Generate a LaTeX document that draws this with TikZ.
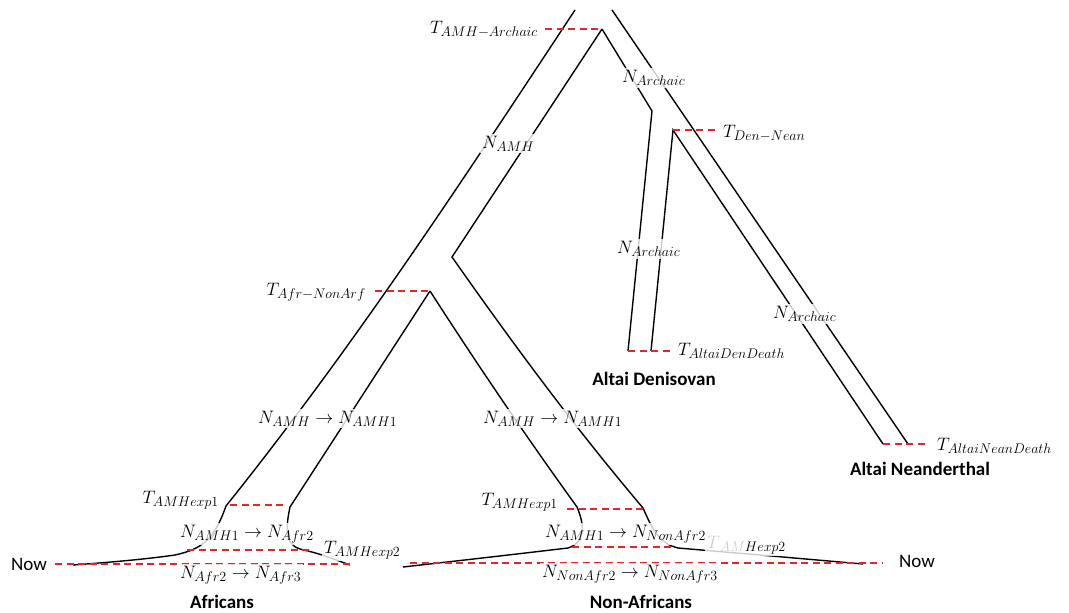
\RequirePackage{fix-cm}
\documentclass[tikz,border=0pt]{standalone}
\usepackage{fontspec}
\newfontfamily\calib{Carlito}
\DeclareMathSizes{18}{18}{14}{10}
\newcommand\lblsize{\fontsize{18}{21}\selectfont}
\newcommand\popfont{\calib\bfseries\fontsize{19}{22}\selectfont}
\newcommand\nowfont{\calib\fontsize{19}{22}\selectfont}
\definecolor{cutred}{RGB}{228,38,38}
\definecolor{faded}{RGB}{205,205,205}
\begin{document}
\begin{tikzpicture}[x=1pt,y=-1pt,
  lin/.style={line width=1.4pt,black},
  cut/.style={line width=1.6pt,cutred,dash pattern=on 7pt off 4.5pt},
  lbl/.style={fill=white,fill opacity=0.8,text opacity=1,inner sep=2pt,font=\lblsize},
  pop/.style={inner sep=1pt,font=\popfont},
  nowlbl/.style={inner sep=1pt,font=\nowfont}]
\useasboundingbox (0,0) rectangle (1069,613);

% branch points and ends
\coordinate (amhTop) at (575,10);
\coordinate (afrEnd) at (226,506);
\coordinate (afrNow) at (73,565);
\coordinate (amhSplit) at (602,29);
\coordinate (amhJoin) at (452,257);
\coordinate (nafOutEnd) at (643,508);
\coordinate (nafOutNow) at (863,564);
\coordinate (afrSplit) at (430,291);
\coordinate (afrInEnd) at (290,507);
\coordinate (afrInNow) at (350,565);
\coordinate (nafInEnd) at (577,507);
\coordinate (nafInNow) at (403,567);
\coordinate (arcTop) at (612,10);
\coordinate (neanEnd) at (908,444);
\coordinate (arcBend) at (652,111);
\coordinate (denEndL) at (628,351);
\coordinate (denSplit) at (673,130);
\coordinate (denEndR) at (651,351);
\coordinate (neanEndL) at (883,444);

% time markers
\coordinate (tAA) at (545,29);
\coordinate (tDN) at (718,130);
\coordinate (tAN) at (375,291);
\coordinate (tADD) at (672,351);
\coordinate (tAND) at (928,444);
\coordinate (e1a) at (230,505);
\coordinate (e1b) at (287,505);
\coordinate (e1c) at (567,509);
\coordinate (e1d) at (643,509);
\coordinate (e2a) at (187,550);
\coordinate (e2b) at (313,550);
\coordinate (e2c) at (572,547);
\coordinate (e2d) at (673,547);
\coordinate (nowL) at (55,564);
\coordinate (nowLe) at (350,564);
\coordinate (nowRs) at (410,563);
\coordinate (nowR) at (883,563);

% population outlines
\draw[lin] (amhTop) .. controls (466,175) and (358,341) .. (afrEnd)
  .. controls (214,540) and (202,549) .. (175,555)
  .. controls (140,560) and (100,563) .. (afrNow);
\draw[lin] (amhSplit) -- (amhJoin) .. controls (511,341) and (572,424) .. (nafOutEnd)
  .. controls (652,528) and (658,543) .. (678,548)
  .. controls (760,555) .. (nafOutNow);
\draw[lin] (afrSplit) -- (afrInEnd) .. controls (285,530) and (286,545) .. (300,549)
  .. controls (320,554) .. (afrInNow);
\draw[lin] (afrSplit) .. controls (477,364) and (525,435) .. (nafInEnd)
  .. controls (586,528) and (584,543) .. (568,548)
  .. controls (500,556) .. (nafInNow);
\draw[lin] (arcTop) -- (neanEnd);
\draw[lin] (amhSplit) -- (arcBend) -- (denEndL);
\draw[lin] (denEndR) -- (denSplit) -- (neanEndL);

% dashed time lines
\draw[cut] (tAA) -- (amhSplit);
\draw[cut] (denSplit) -- (tDN);
\draw[cut] (tAN) -- (afrSplit);
\draw[cut] (denEndL) -- (tADD);
\draw[cut] (neanEndL) -- (tAND);
\draw[cut] (e1a) -- (e1b);
\draw[cut] (e1c) -- (e1d);
\draw[cut] (e2a) -- (e2b);
\draw[cut] (e2c) -- (e2d);
\draw[cut] (nowL) -- (nowLe);
\draw[cut] (nowRs) -- (nowR);

% parameter labels
\node[lbl,anchor=base east] (lAA) at (540,33) {$T_{AMH-Archaic}$};
\node[lbl,anchor=base west] (lNA1) at (620,82) {$N_{Archaic}$};
\node[lbl,anchor=base west] (lNAMH) at (480,148) {$N_{AMH}$};
\node[lbl,anchor=base west] (lDN) at (721,137) {$T_{Den-Nean}$};
\node[lbl,anchor=base west] (lNA2) at (615,253) {$N_{Archaic}$};
\node[lbl,anchor=base east] (lAfN) at (368,295) {$T_{Afr-NonArf}$};
\node[lbl,anchor=base west] (lNA3) at (771,318) {$N_{Archaic}$};
\node[lbl,anchor=base west] (lADD) at (676,355) {$T_{AltaiDenDeath}$};
\node[lbl,anchor=base west] (lG1) at (256,423) {$N_{AMH}\to N_{AMH1}$};
\node[lbl,anchor=base west] (lG2) at (481,423) {$N_{AMH}\to N_{AMH1}$};
\node[lbl,anchor=base west] (lAND) at (935,450) {$T_{AltaiNeanDeath}$};
\node[lbl,anchor=base east] (lE1a) at (221,503) {$T_{AMHexp1}$};
\node[lbl,anchor=base east] (lE1b) at (560,505) {$T_{AMHexp1}$};
\node[lbl,anchor=base west] (lX1) at (178,537) {$N_{AMH1}\to N_{Afr2}$};
\node[lbl,anchor=base west] (lE2a) at (322,553) {$T_{AMHexp2}$};
\node[lbl,anchor=base west] (lE2b) at (705,548) {${\color{faded}T}_{{\color{faded}AM}Hexp2}$};
\node[lbl,anchor=base west] (lX2) at (543,537) {$N_{AMH1}\to N_{NonAfr2}$};
\node[lbl,anchor=base west] (lX3) at (178,578) {$N_{Afr2}\to N_{Afr3}$};
\node[lbl,anchor=base west] (lX4) at (540,577) {$N_{NonAfr2}\to N_{NonAfr3}$};

% population names
\node[pop,anchor=base] (popDen) at (654,385) {Altai Denisovan};
\node[pop,anchor=base] (popNean) at (920,475) {Altai Neanderthal};
\node[pop,anchor=base] (popAfr) at (222,608) {Africans};
\node[pop,anchor=base] (popNaf) at (641,608) {Non-Africans};
\node[nowlbl,anchor=base west] (nowTxtL) at (10,570) {Now};
\node[nowlbl,anchor=base west] (nowTxtR) at (898,567) {Now};
\end{tikzpicture}
\end{document}
